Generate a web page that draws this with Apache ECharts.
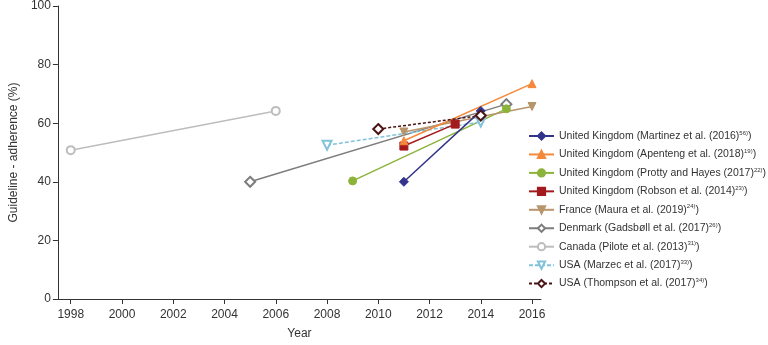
<!DOCTYPE html>
<html>
<head>
<meta charset="utf-8">
<script src="https://cdn.jsdelivr.net/npm/echarts@6/dist/echarts.min.js"></script>
<style>
  html, body { margin: 0; padding: 0; background: #fff; }
  #chart { width: 768px; height: 345px; }
</style>
</head>
<body>
<div id="chart"></div>
<script>
// tick labels on the year axis
var yearTicks = [1998, 2000, 2002, 2004, 2006, 2008, 2010, 2012, 2014, 2016];

// one pair of arrays per study (years, adherence %)
var martinezYears = [2011, 2014];   var martinezVals = [40, 64.2];
var apentengYears = [2011, 2016];   var apentengVals = [54, 73.5];
var prottyYears   = [2009, 2015];   var prottyVals   = [40.3, 64.9];
var robsonYears   = [2011, 2013];   var robsonVals   = [52.2, 59.7];
var mauraYears    = [2011, 2016];   var mauraVals    = [57, 65.7];
var gadsbollYears = [2005, 2015];   var gadsbollVals = [40, 66.5];
var piloteYears   = [1998, 2006];   var piloteVals   = [50.8, 64.2];
var marzecYears   = [2008, 2014];   var marzecVals   = [52.5, 60.4];
var thompsonYears = [2010, 2014];   var thompsonVals = [58, 62.6];

var names = [
  'United Kingdom (Martinez et al. (2016)',
  'United Kingdom (Apenteng et al. (2018)',
  'United Kingdom (Protty and Hayes (2017)',
  'United Kingdom (Robson et al. (2014)',
  'France (Maura et al. (2019)',
  'Denmark (Gadsbøll et al. (2017)',
  'Canada (Pilote et al. (2013)',
  'USA (Marzec et al. (2017)',
  'USA (Thompson et al. (2017)'
];
var refs = ['56)', '19)', '22)', '23)', '24)', '26)', '31)', '33)', '34)'];

function pairs(xs, ys) {
  var out = [];
  for (var i = 0; i < xs.length; i++) out.push([xs[i], ys[i]]);
  return out;
}

var myChart = echarts.init(document.getElementById('chart'));

function mk(idx, xs, ys, color, symbol, opts) {
  opts = opts || {};
  return {
    name: names[idx],
    type: 'line',
    data: pairs(xs, ys),
    symbol: symbol,
    symbolSize: opts.size || 7,
    symbolRotate: opts.rotate || 0,
    lineStyle: { color: color, width: 1.5, type: opts.dash || 'solid' },
    itemStyle: { color: color, borderColor: color, borderWidth: opts.border || 1 },
    z: opts.z || 2
  };
}

myChart.setOption({
  animation: false,
  textStyle: { fontFamily: 'Liberation Sans, Arial, sans-serif' },
  grid: { left: 50, right: 227, top: 6, bottom: 41, containLabel: false },
  legend: {
    orient: 'vertical',
    left: 528,
    top: 130,
    padding: 0,
    itemWidth: 25,
    itemHeight: 9,
    itemGap: 6.45,
    data: names,
    textStyle: {
      color: '#333',
      fontSize: 10.5,
      lineHeight: 12,
      rich: {
        sup: { fontSize: 6, lineHeight: 12, verticalAlign: 'top', color: '#333' }
      }
    },
    formatter: function (n) {
      var i = names.indexOf(n);
      return n + '{sup|' + refs[i] + '}' + ')';
    }
  },
  xAxis: {
    type: 'value',
    min: 1997.5,
    max: 2016.35,
    name: 'Year',
    nameLocation: 'middle',
    nameGap: 29,
    nameTextStyle: { color: '#333', fontSize: 12 },
    axisLine: { lineStyle: { color: '#333', width: 1 } },
    axisTick: { show: true, length: 5, lineStyle: { color: '#333' }, customValues: yearTicks },
    axisLabel: {
      color: '#333', fontSize: 12, margin: 10, customValues: yearTicks,
      formatter: function (v) { return String(v); }
    },
    splitLine: { show: false }
  },
  yAxis: {
    type: 'value',
    min: 0,
    max: 100,
    interval: 20,
    name: 'Guideline - adherence (%)',
    nameLocation: 'middle',
    nameGap: 30,
    nameTextStyle: { color: '#333', fontSize: 12 },
    axisLine: { show: true, lineStyle: { color: '#333', width: 1 } },
    axisTick: { show: true, length: 5, lineStyle: { color: '#333' } },
    axisLabel: { color: '#333', fontSize: 12, margin: 7 },
    splitLine: { show: false }
  },
  series: [
    mk(6, piloteYears, piloteVals, '#bdbdbd', 'emptyCircle', { size: 8 }),
    mk(5, gadsbollYears, gadsbollVals, '#7d7d7d', 'emptyDiamond', { size: 10 }),
    mk(2, prottyYears, prottyVals, '#8cb43a', 'circle', { size: 8 }),
    mk(7, marzecYears, marzecVals, '#80c3da', 'emptyTriangle', { size: 9, rotate: 180, dash: [4, 2] }),
    mk(4, mauraYears, mauraVals, '#b8956b', 'triangle', { size: 8, rotate: 180 }),
    mk(3, robsonYears, robsonVals, '#a31a1d', 'rect', { size: 8 }),
    mk(1, apentengYears, apentengVals, '#f5883a', 'triangle', { size: 8 }),
    mk(0, martinezYears, martinezVals, '#32338c', 'diamond', { size: 9 }),
    mk(8, thompsonYears, thompsonVals, '#4b1414', 'emptyDiamond', { size: 10, dash: [3, 2], border: 1.5 })
  ]
});
</script>
</body>
</html>
